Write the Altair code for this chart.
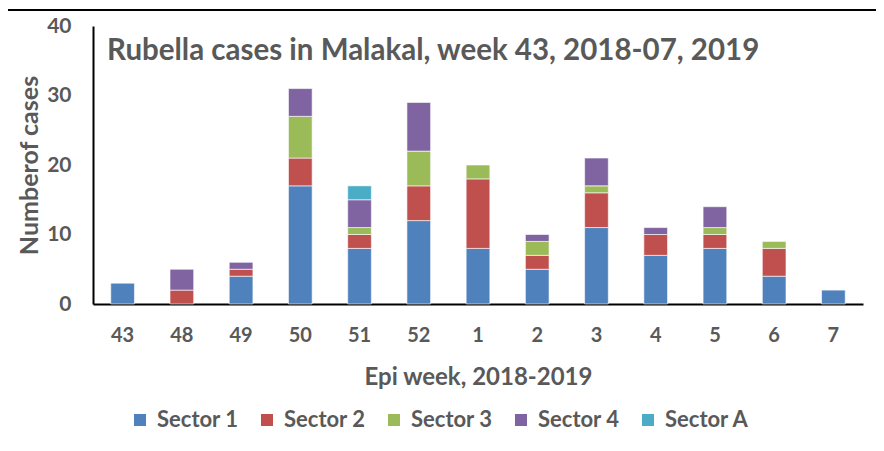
import altair as alt
import pandas as pd

weeks = ["43", "48", "49", "50", "51", "52", "1", "2", "3", "4", "5", "6", "7"]
sectors = ["Sector 1", "Sector 2", "Sector 3", "Sector 4", "Sector A"]
sector1 = [3, 0, 4, 17, 8, 12, 8, 5, 11, 7, 8, 4, 2]
sector2 = [0, 2, 1, 4, 2, 5, 10, 2, 5, 3, 2, 4, 0]
sector3 = [0, 0, 0, 6, 1, 5, 2, 2, 1, 0, 1, 1, 0]
sector4 = [0, 3, 1, 4, 4, 7, 0, 1, 4, 1, 3, 0, 0]
sectorA = [0, 0, 0, 0, 2, 0, 0, 0, 0, 0, 0, 0, 0]
colors = ["#4F81BD", "#C0504D", "#9BBB59", "#8064A2", "#4BACC6"]

series = [sector1, sector2, sector3, sector4, sectorA]
rows = []
for si, (name, vals) in enumerate(zip(sectors, series)):
    for w, v in zip(weeks, vals):
        if v > 0:
            rows.append({"week": w, "sector": name, "cases": v, "ord": si})
df = pd.DataFrame(rows)

FONT = "Lato"
GREY = "#595959"

bars = alt.Chart(df).mark_bar(stroke="white", strokeWidth=0.6).encode(
    x=alt.X("week:N", sort=weeks,
            scale=alt.Scale(paddingInner=0.6, paddingOuter=0.3),
            axis=alt.Axis(title="Epi week, 2018-2019", labelAngle=0, ticks=False,
                          domainColor="black", domainWidth=2,
                          labelFontSize=20, labelFont=FONT, labelFontWeight="bold",
                          labelColor=GREY, labelPadding=21,
                          titleFontSize=24, titleFont=FONT, titleFontWeight="bold",
                          titleColor=GREY, titlePadding=20)),
    y=alt.Y("sum(cases):Q", stack="zero",
            scale=alt.Scale(domain=[0, 40]),
            axis=alt.Axis(title="Numberof cases", values=[0, 10, 20, 30, 40],
                          grid=False, ticks=False, domainColor="black", domainWidth=2,
                          labelFontSize=21, labelFont=FONT, labelFontWeight="bold",
                          labelColor=GREY, labelPadding=22,
                          titleFontSize=25, titleFont=FONT, titleFontWeight="bold",
                          titleColor=GREY, titlePadding=4)),
    color=alt.Color("sector:N", sort=sectors,
                    scale=alt.Scale(domain=sectors, range=colors),
                    legend=alt.Legend(title=None, orient="none", direction="horizontal",
                                      legendX=36, legendY=383, columns=5,
                                      symbolType="square", symbolSize=144,
                                      symbolStrokeWidth=0, columnPadding=17,
                                      labelFontSize=22, labelFont=FONT,
                                      labelFontWeight="bold", labelColor=GREY,
                                      labelOffset=6)),
    order=alt.Order("ord:Q", sort="ascending"),
)

title_df = pd.DataFrame({"t": ["Rubella cases in Malakal, week 43, 2018-07, 2019"]})
title = alt.Chart(title_df).mark_text(
    align="left", baseline="alphabetic", font=FONT, fontSize=29.5,
    fontWeight="bold", color=GREY
).encode(x=alt.value(14), y=alt.value(34), text="t:N")

border = alt.Chart(title_df).mark_rule(color="black", strokeWidth=2, clip=False).encode(
    x=alt.value(-93), x2=alt.value(800), y=alt.value(-16)
)

chart = alt.layer(bars, title, border).properties(
    width=770, height=278,
    autosize=alt.AutoSizeParams(type="none"),
    padding={"left": 85, "top": 18, "right": 13, "bottom": 140},
).configure_view(stroke=None)

chart.save("out.html", embed_options={"renderer": "svg", "actions": False})
